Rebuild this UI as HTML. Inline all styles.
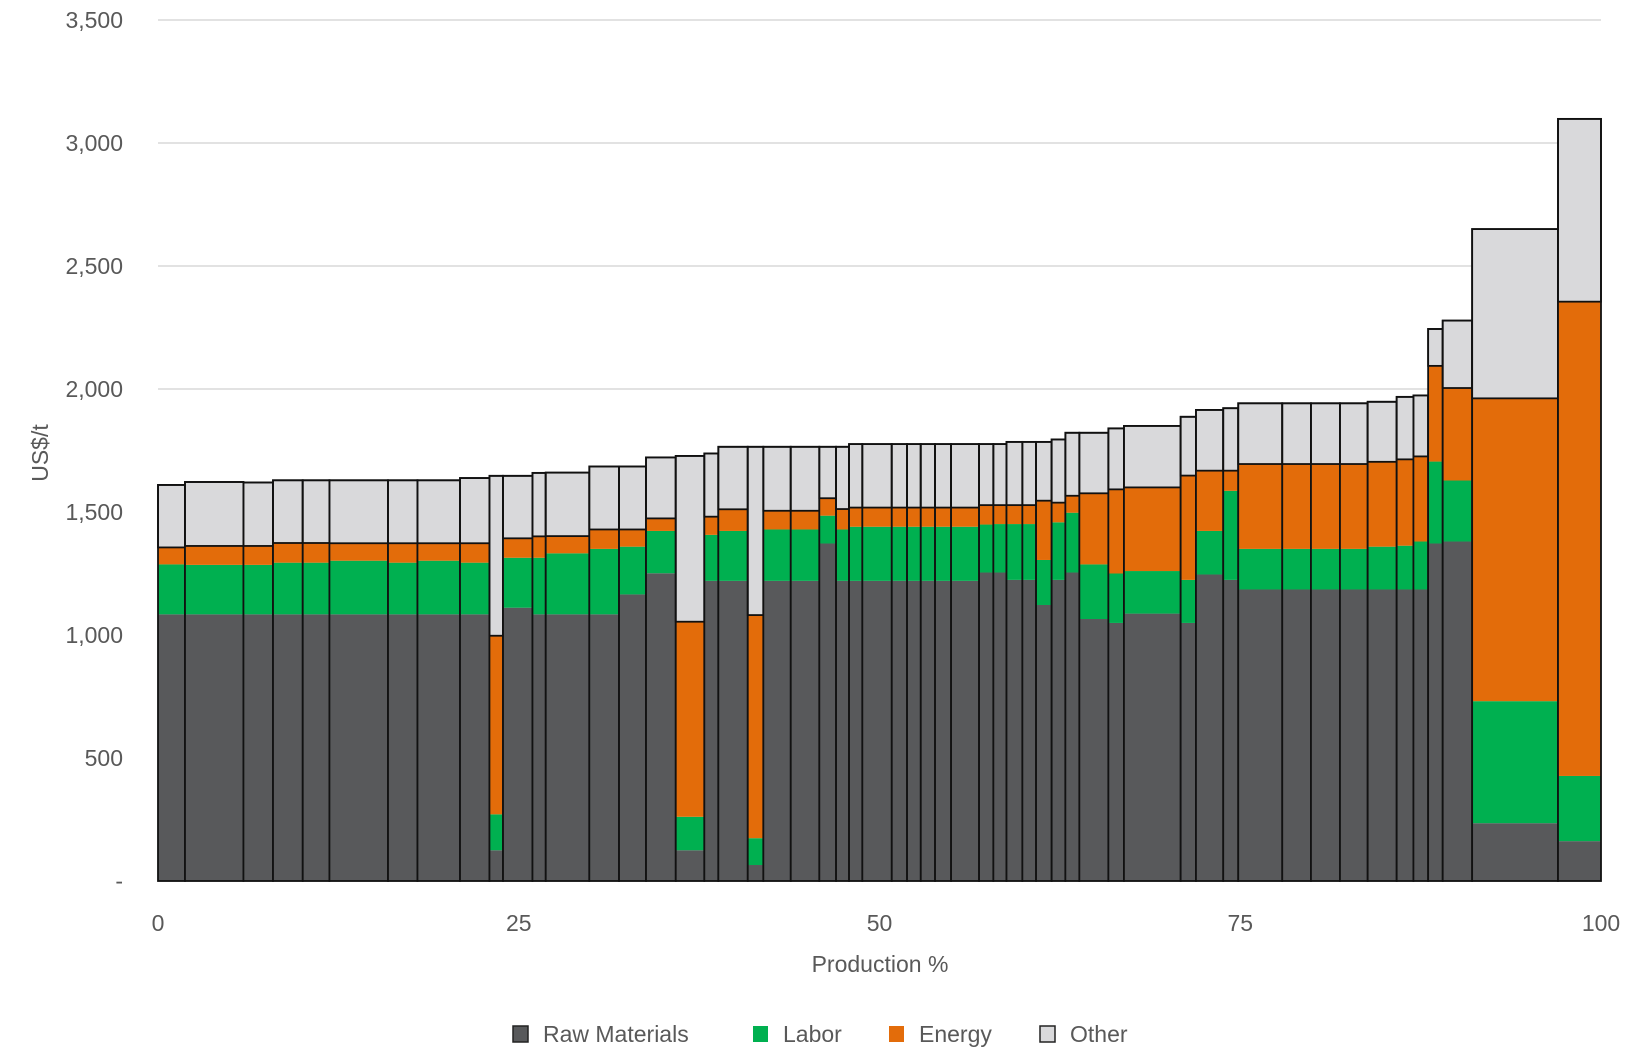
<!DOCTYPE html>
<html><head><meta charset="utf-8"><style>
body{margin:0;background:#fff;}
svg{display:block;font-family:"Liberation Sans",sans-serif;}
</style></head><body>
<svg id="chart" width="1642" height="1062">
<g id="grid"></g>
<g id="yticks"></g>
<g id="xticks"></g>
<g id="bars"></g>
<text x="48" y="453" transform="rotate(-90 48 453)" text-anchor="middle" font-size="23" fill="#595959">US$/t</text>
<text x="880" y="972" text-anchor="middle" font-size="23" fill="#595959">Production %</text>
<g>
 <g><rect x="513" y="1026" width="15" height="16" fill="#58595b" stroke="#222" stroke-width="1.5"/><text x="543" y="1042" font-size="23" fill="#595959">Raw Materials</text></g>
 <g><rect x="753" y="1026" width="15" height="16" fill="#00b050"/><text x="783" y="1042" font-size="23" fill="#595959">Labor</text></g>
 <g><rect x="889" y="1026" width="15" height="16" fill="#e36c0a"/><text x="919" y="1042" font-size="23" fill="#595959">Energy</text></g>
 <g><rect x="1040" y="1026" width="15" height="16" fill="#d9d9db" stroke="#222" stroke-width="1.5"/><text x="1070" y="1042" font-size="23" fill="#595959">Other</text></g>
</g>
</svg>
<script>
const cumEnd=[1.87,5.92,7.97,10.03,11.88,15.94,17.98,20.93,22.97,23.91,25.95,26.87,29.89,31.95,33.82,35.88,37.86,38.83,40.87,41.95,43.85,45.83,46.99,47.89,48.81,50.85,51.91,52.86,53.85,54.96,56.90,57.89,58.8,59.9,60.85,61.93,62.88,63.85,65.86,66.94,70.87,71.93,73.82,74.86,77.91,79.90,81.91,83.83,85.84,87.0,88.02,89.03,91.07,97.02,100];
const rawMaterials=[1084,1084,1084,1084,1084,1084,1084,1084,1084,125,1111,1084,1084,1084,1165,1251,125,1220,1220,65,1220,1220,1372,1220,1220,1220,1220,1220,1220,1220,1220,1254,1254,1224,1224,1122,1224,1254,1065,1049,1087,1049,1246,1224,1185,1185,1185,1185,1185,1185,1185,1372,1380,235,162];
const labor=[203,201,201,210,210,218,210,218,210,146,203,230,248,266,194,172,136,187,203,109,209,209,113,209,220,220,220,220,220,220,220,195,197,227,227,183,234,243,222,201,173,175,177,362,165,165,165,165,174,178,195,333,248,496,265];
const energy=[69,77,77,80,80,71,79,71,79,726,79,87,70,79,70,51,793,74,88,907,76,76,71,83,78,78,78,78,78,78,78,79,77,77,77,241,80,69,289,342,340,424,245,82,345,345,345,345,345,351,346,389,376,1231,1928];
const other=[254,260,258,255,255,256,256,256,265,650,254,258,258,256,256,248,674,257,254,684,260,260,209,253,258,258,258,258,258,258,258,248,248,257,257,239,257,256,246,248,250,239,247,254,247,247,247,247,244,254,248,150,274,688,743];
const yTicks=[0,500,1000,1500,2000,2500,3000,3500];
const yTickLabels=["-","500","1,000","1,500","2,000","2,500","3,000","3,500"];
const xTicks=[0,25,50,75,100];

const NS="http://www.w3.org/2000/svg";
const X0=158,X1=1601,Y0=881,Y1=20;
const xs=v=>X0+(X1-X0)*v/100;
const ys=v=>Y0-(Y0-Y1)*v/3500;
function mk(tag,attrs,parent){const e=document.createElementNS(NS,tag);for(const k in attrs)e.setAttribute(k,attrs[k]);parent.appendChild(e);return e;}
const grid=document.getElementById('grid'),yt=document.getElementById('yticks'),xt=document.getElementById('xticks'),bars=document.getElementById('bars');
yTicks.forEach((t,i)=>{
  if(t>0){const l=mk('line',{x1:X0,x2:X1,y1:ys(t),y2:ys(t),stroke:'#d9d9d9','stroke-width':1.5},grid);
  
  }
  const tx=mk('text',{x:123,y:ys(t)+8,'text-anchor':'end','font-size':23,fill:'#595959'},yt);
  tx.textContent=yTickLabels[i];
  
  
});
mk('line',{x1:X0,x2:X1,y1:Y0,y2:Y0,stroke:'#d9d9d9','stroke-width':1.5},grid);
xTicks.forEach(t=>{
  const tx=mk('text',{x:xs(t),y:931,'text-anchor':'middle','font-size':23,fill:'#595959'},xt);
  tx.textContent=t;
  
  
});
const colors=['#58595b','#00b050','#e36c0a','#d9d9db'];
cumEnd.forEach((end,i)=>{
  const start=i===0?0:cumEnd[i-1];
  const xa=xs(start),xb=xs(end);
  const g=mk('g',{},bars);
  
  
  const vals=[rawMaterials[i],labor[i],energy[i],other[i]];
  let acc=0;
  vals.forEach((v,k)=>{
    const r=mk('rect',{x:xa,y:ys(acc+v),width:xb-xa,height:ys(acc)-ys(acc+v),fill:colors[k]},g);
    if(k===3){r.setAttribute('stroke','#111');r.setAttribute('stroke-width','1.8');}
    
    
    acc+=v;
  });
  mk('rect',{x:xa,y:ys(acc),width:xb-xa,height:Y0-ys(acc),fill:'none',stroke:'#111','stroke-width':1.8},g);
});
</script>
</body></html>
